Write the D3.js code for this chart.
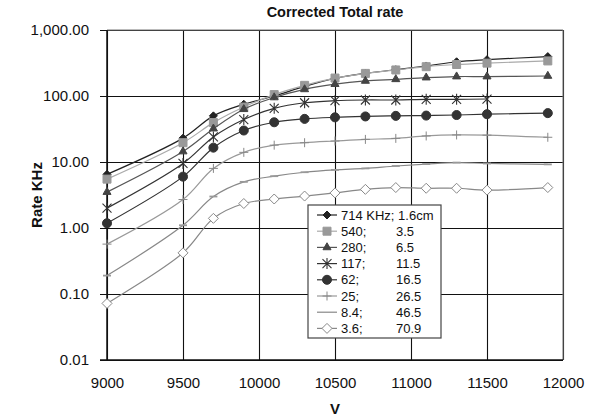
<!DOCTYPE html>
<html>
<head>
<meta charset="utf-8">
<script src="https://cdn.jsdelivr.net/npm/d3@7"></script>
<style>
  body { margin: 0; background: #fff; }
  text { font-family: "Liberation Sans", Arial, sans-serif; }
  .tick text { font-size: 15px; fill: #111; }
  .axis-title { font-size: 14.5px; font-weight: bold; fill: #111; }
</style>
</head>
<body>
<svg id="chart" width="600" height="418"></svg>
<script>
// voltage steps (x)
var volts = [9000, 9500, 9700, 9900, 10100, 10300, 10500, 10700, 10900, 11100, 11300, 11500, 11900];

// rates in KHz
var r714 = [6.5, 23, 50, 75, 100, 140, 185, 220, 250, 285, 330, 355, 395];
var r540 = [5.5, 19.6, 39.5, 68, 105, 145, 187, 220, 248, 278, 300, 315, 340];
var r280 = [3.5, 14.4, 32, 63, 95, 126, 151, 169, 179, 190, 197, 197, 201];
var r117 = [2.0, 9.5, 24, 44, 65, 79, 85, 87, 87, 89, 89, 90, null];
var r62 = [1.18, 6.0, 16.5, 30, 40, 45, 47.5, 49, 50, 50.5, 51.5, 53, 55];
var r25 = [0.57, 2.7, 8.0, 14, 18, 19.6, 20.8, 22, 22.8, 24.8, 25.7, 25.5, 23.7];
var r8_4 = [0.19, 1.1, 3.0, 5.0, 6.1, 7.0, 7.6, 8.0, 8.7, 9.3, 9.8, 9.5, 9.2];
var r3_6 = [0.072, 0.42, 1.4, 2.35, 2.75, 3.05, 3.4, 3.85, 4.1, 4.0, 4.0, 3.75, 4.1];

var legendRate = ["714 KHz; 1.6cm", "540;", "280;", "117;", "62;", "25;", "8.4;", "3.6;"];
var legendDist = ["", "3.5", "6.5", "11.5", "16.5", "26.5", "46.5", "70.9"];

var xTicks = [9000, 9500, 10000, 10500, 11000, 11500, 12000];
var yTicks = [0.01, 0.1, 1, 10, 100, 1000];

var series = [
  { values: r714, line: "#222", mark: "diamond", fill: "#222", stroke: "#222", size: 4 },
  { values: r540, line: "#aaa", mark: "square", fill: "#999", stroke: "#999", size: 64 },
  { values: r280, line: "#555", mark: "triangle", fill: "#444", stroke: "#444", size: 28 },
  { values: r117, line: "#333", mark: "star", fill: "none", stroke: "#333", size: 0 },
  { values: r62, line: "#333", mark: "circle", fill: "#333", stroke: "#333", size: 64 },
  { values: r25, line: "#999", mark: "plus", fill: "none", stroke: "#888", size: 0 },
  { values: r8_4, line: "#888", mark: "dash", fill: "none", stroke: "#999", size: 0 },
  { values: r3_6, line: "#888", mark: "diamond", fill: "#fff", stroke: "#888", size: 5 }
];

var svg = d3.select("#chart");
var plotL = 107, plotR = 563, plotT = 30, plotB = 360;

var x = d3.scaleLinear().domain([9000, 12000]).range([plotL, plotR]);
var y = d3.scaleLog().domain([0.01, 1000]).range([plotB, plotT]);

// grid + axes
svg.append("g")
  .attr("transform", "translate(0," + plotB + ")")
  .call(d3.axisBottom(x).tickValues(xTicks).tickSize(-(plotB - plotT)).tickPadding(17).tickFormat(d3.format("d")))
  .call((g) => g.select(".domain").remove())
  .call((g) => g.selectAll(".tick line").attr("stroke", "#111").attr("stroke-width", 1.1));

svg.append("g")
  .attr("transform", "translate(" + plotL + ",0)")
  .call(d3.axisLeft(y).tickValues(yTicks).tickSize(7).tickPadding(11).tickFormat(d3.format(",.2f")))
  .call((g) => g.select(".domain").remove())
  .call((g) => g.selectAll(".tick line").attr("x2", -7).attr("x1", plotR - plotL).attr("stroke", "#111").attr("stroke-width", 1.1));

// plot frame: top/right lighter, left/bottom dark
svg.append("line").attr("x1", plotL).attr("x2", plotR).attr("y1", plotT).attr("y2", plotT).attr("stroke", "#777");
svg.append("line").attr("x1", plotR).attr("x2", plotR).attr("y1", plotT).attr("y2", plotB).attr("stroke", "#777");
svg.append("line").attr("x1", plotL).attr("x2", plotL).attr("y1", plotT).attr("y2", plotB).attr("stroke", "#111").attr("stroke-width", 1.5);
svg.append("line").attr("x1", plotL - 7).attr("x2", plotR).attr("y1", plotB).attr("y2", plotB).attr("stroke", "#111").attr("stroke-width", 1.5);

// titles
svg.append("text").attr("class", "axis-title").attr("x", 335).attr("y", 17)
  .attr("text-anchor", "middle").text("Corrected Total rate");
svg.append("text").attr("class", "axis-title").attr("x", 335).attr("y", 414)
  .style("font-size", "15px").attr("text-anchor", "middle").text("V");
svg.append("text").attr("class", "axis-title")
  .attr("transform", "translate(42,195) rotate(-90)")
  .style("font-size", "15px").attr("text-anchor", "middle").text("Rate KHz");

// draws one marker of a series at (0,0) inside g
function drawMark(g, s) {
  if (s.mark == "star") {
    g.append("path").attr("d", "M-4.5,-4.5L4.5,4.5M-4.5,4.5L4.5,-4.5M0,-5.5V5.5")
      .attr("stroke", s.stroke).attr("stroke-width", 1.1);
  } else if (s.mark == "plus") {
    g.append("path").attr("d", "M-4.5,0H4.5M0,-4.5V4.5").attr("stroke", s.stroke).attr("stroke-width", 1);
  } else if (s.mark == "dash") {
    g.append("path").attr("d", "M-4,0H4").attr("stroke", s.stroke).attr("stroke-width", 1.8);
  } else if (s.mark == "diamond") {
    var r = s.size;
    g.append("path").attr("d", "M0," + (-r) + "L" + r + ",0L0," + r + "L" + (-r) + ",0Z")
      .attr("fill", s.fill).attr("stroke", s.stroke).attr("stroke-width", 1);
  } else {
    var type = { square: d3.symbolSquare, triangle: d3.symbolTriangle, circle: d3.symbolCircle }[s.mark];
    g.append("path").attr("d", d3.symbol().type(type).size(s.size)())
      .attr("fill", s.fill).attr("stroke", s.stroke).attr("stroke-width", 1);
  }
}

var line = d3.line()
  .defined((d) => d[1] != null)
  .x((d) => x(d[0]))
  .y((d) => y(d[1]))
  .curve(d3.curveCatmullRom.alpha(0.5));

// series in order, later ones drawn over earlier ones
series.forEach(function(s) {
  var pts = volts.map((v, i) => [v, s.values[i]]);
  svg.append("path").datum(pts)
    .attr("d", line)
    .attr("fill", "none")
    .attr("stroke", s.line)
    .attr("stroke-width", 1.2);

  svg.append("g").selectAll("g")
    .data(pts.filter((d) => d[1] != null))
    .enter()
    .append("g")
      .attr("transform", (d) => "translate(" + x(d[0]) + "," + y(d[1]) + ")")
      .each(function() { drawMark(d3.select(this), s); });
});

// legend
var legend = svg.append("g").attr("transform", "translate(308,205)");
legend.append("rect").attr("width", 133).attr("height", 133)
  .attr("fill", "#fff").attr("stroke", "#444").attr("stroke-width", 1.2);

series.forEach(function(s, i) {
  var row = legend.append("g").attr("transform", "translate(0," + (10 + i * 16.2) + ")");
  row.append("line").attr("x1", 9).attr("x2", 29).attr("stroke", s.line).attr("stroke-width", 1.2);
  var m = row.append("g").attr("transform", "translate(19,0)");
  if (s.mark != "dash") drawMark(m, s);
  row.append("text").attr("x", 33).attr("y", 4.5).style("font-size", "13px").attr("fill", "#111").text(legendRate[i]);
  row.append("text").attr("x", 88).attr("y", 4.5).style("font-size", "13px").attr("fill", "#111").text(legendDist[i]);
});
</script>
</body>
</html>
